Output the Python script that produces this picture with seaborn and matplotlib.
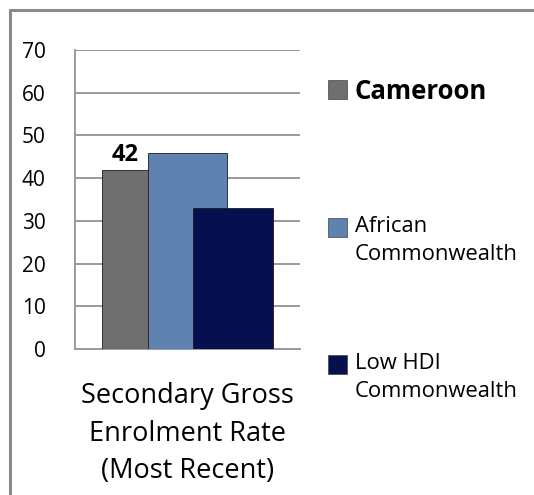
import matplotlib
matplotlib.use("Agg")
import matplotlib.pyplot as plt
from matplotlib.lines import Line2D
from matplotlib.patches import Rectangle
import seaborn as sns
import pandas as pd

# data
metric = "Secondary Gross\nEnrolment Rate\n(Most Recent)"
groups = ["Cameroon", "African\nCommonwealth", "Low HDI\nCommonwealth"]
values = [42, 46, 33]
colors = ["#6f6f6f", "#5f82b0", "#06104f"]
y_ticks = [0, 10, 20, 30, 40, 50, 60, 70]

df = pd.DataFrame({"metric": [metric] * 3, "group": groups, "value": values})

sns.set_style("white")
plt.rcParams["font.family"] = ["Open Sans", "DejaVu Sans"]
plt.rcParams["text.color"] = "black"
plt.rcParams["ytick.color"] = "black"
plt.rcParams["axes.labelcolor"] = "black"

fig = plt.figure(figsize=(5.34, 4.95), dpi=100)
ax = fig.add_axes([0.1404, 0.2949, 0.4213, 0.604])

sns.barplot(data=df, x="metric", y="value", hue="group", hue_order=groups,
            palette=colors, dodge=True, width=0.8, legend=False, ax=ax,
            edgecolor="none", saturation=1)

# widen the dodged bars so they overlap like the original
for p in ax.patches:
    cx = p.get_x() + p.get_width() / 2
    w = p.get_width() * 1.75
    p.set_x(cx - w / 2)
    p.set_width(w)
    p.set_zorder(3)
    p.set_edgecolor("#1a1a2a")
    p.set_linewidth(0.6)

ax.set_xlim(-0.658, 0.658)
ax.set_ylim(0, 70)
ax.set_yticks(y_ticks)
ax.tick_params(axis="y", labelsize=15, length=0, pad=21, labelcolor="black")
ax.set_xticks([])
ax.set_xlabel(metric, fontsize=19.5, labelpad=24, linespacing=1.45,
              color="black")
ax.set_ylabel("")
ax.yaxis.grid(True, color="#9a9a9a", linewidth=1.4)
ax.set_axisbelow(True)
for s in ["top", "right"]:
    ax.spines[s].set_visible(False)
for s in ["left", "bottom"]:
    ax.spines[s].set_color("#9a9a9a")
    ax.spines[s].set_linewidth(1.4)

# value label above the visible part of the first bar
first = ax.patches[0]
vis_right = ax.patches[1].get_x()
ax.text((first.get_x() + vis_right) / 2, values[0] + 0.6, str(values[0]),
        ha="center", va="bottom", fontsize=17, fontweight="bold",
        color="black", zorder=5)

# legend on the right
legend_y = [89, 227, 364]
for g, c, yy in zip(groups, colors, legend_y):
    fy = 1 - yy / 495
    fig.add_artist(Rectangle((328 / 534, fy - 10 / 495), 19 / 534, 19 / 495,
                             transform=fig.transFigure, facecolor=c,
                             edgecolor="#444444", linewidth=0.5))
    bold = g == groups[0]
    fig.text(355 / 534, fy + 11 / 495, g, ha="left", va="top",
             fontsize=18.5 if bold else 15.8, color="black",
             fontweight="bold" if bold else "normal", linespacing=1.42)

# outer frame (top and left only)
fig.add_artist(Line2D([10 / 534, 1], [1 - 10 / 495] * 2,
                      transform=fig.transFigure, color="#8a8a8a", linewidth=2.2))
fig.add_artist(Line2D([10 / 534] * 2, [0, 1 - 10 / 495],
                      transform=fig.transFigure, color="#8a8a8a", linewidth=2.2))

fig.savefig("out.png", dpi=100, facecolor="white")
